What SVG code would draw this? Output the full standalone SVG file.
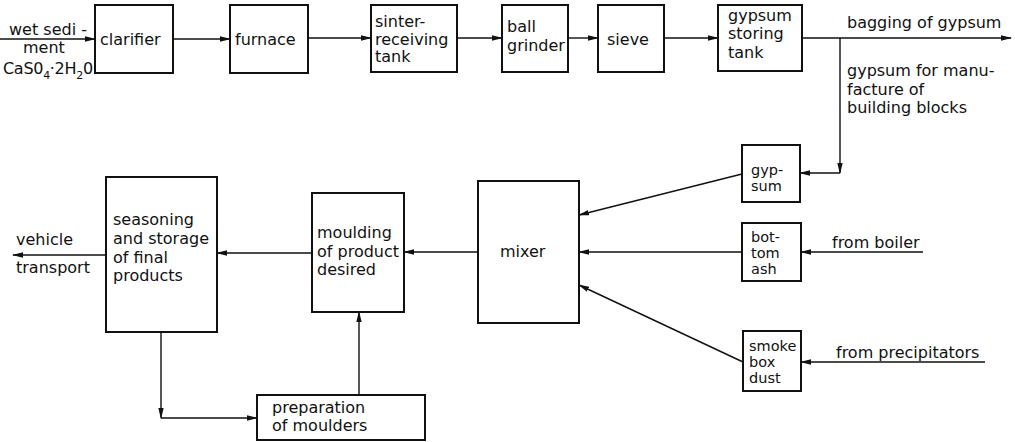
<svg xmlns="http://www.w3.org/2000/svg" width="1015" height="442" viewBox="0 0 1015 442">
<style>
.box{fill:#fff;stroke:#111;stroke-width:2}
.ln{fill:none;stroke:#111;stroke-width:1.4}
text{font-family:"DejaVu Sans",sans-serif;font-size:16px;fill:#111}
.sm{font-size:14.5px}
</style>
<defs>
<marker id="ar" markerWidth="11" markerHeight="7" refX="10" refY="3.5" orient="auto" markerUnits="userSpaceOnUse">
<path d="M0,0.8 L11,3.5 L0,6.2 Z" fill="#111"/>
</marker>
</defs>
<rect width="1015" height="442" fill="#fff"/>
<g id="connectors">
<line class="ln" x1="0" y1="39" x2="95" y2="39" marker-end="url(#ar)"/>
<line class="ln" x1="173" y1="39" x2="230" y2="39" marker-end="url(#ar)"/>
<line class="ln" x1="308" y1="38" x2="371" y2="38" marker-end="url(#ar)"/>
<line class="ln" x1="457" y1="38" x2="502" y2="38" marker-end="url(#ar)"/>
<line class="ln" x1="568" y1="38" x2="598" y2="38" marker-end="url(#ar)"/>
<line class="ln" x1="664" y1="38" x2="718" y2="38" marker-end="url(#ar)"/>
<line class="ln" x1="802" y1="38" x2="1011" y2="38" marker-end="url(#ar)"/>
<line class="ln" x1="840" y1="38" x2="840" y2="173" marker-end="url(#ar)"/>
<line class="ln" x1="840" y1="173" x2="800" y2="173" marker-end="url(#ar)"/>
<line class="ln" x1="742" y1="174" x2="579" y2="215" marker-end="url(#ar)"/>
<line class="ln" x1="742" y1="252" x2="579" y2="252" marker-end="url(#ar)"/>
<line class="ln" x1="743" y1="362" x2="579" y2="285" marker-end="url(#ar)"/>
<line class="ln" x1="923" y1="252" x2="801" y2="252" marker-end="url(#ar)"/>
<line class="ln" x1="985" y1="362" x2="801" y2="362" marker-end="url(#ar)"/>
<line class="ln" x1="478" y1="252" x2="404" y2="252" marker-end="url(#ar)"/>
<line class="ln" x1="312" y1="253" x2="217" y2="253" marker-end="url(#ar)"/>
<line class="ln" x1="106" y1="255" x2="13" y2="255" marker-end="url(#ar)"/>
<line class="ln" x1="161" y1="332" x2="161" y2="418" marker-end="url(#ar)"/>
<line class="ln" x1="161" y1="418" x2="257" y2="418" marker-end="url(#ar)"/>
<line class="ln" x1="359" y1="395" x2="359" y2="312" marker-end="url(#ar)"/>
</g>
<g id="clarifier"><rect class="box" x="95" y="5" width="78" height="68"/><text x="100" y="45">clarifier</text></g>
<g id="furnace"><rect class="box" x="230" y="5" width="78" height="68"/><text x="235" y="45">furnace</text></g>
<g id="sinter"><rect class="box" x="371" y="5" width="86" height="67"/><text x="375" y="27">sinter-</text><text x="375" y="45">receiving</text><text x="375" y="62">tank</text></g>
<g id="ballgrinder"><rect class="box" x="502" y="5" width="66" height="67"/><text x="507" y="32">ball</text><text x="507" y="51">grinder</text></g>
<g id="sieve"><rect class="box" x="598" y="5" width="66" height="67"/><text x="607" y="45">sieve</text></g>
<g id="gypsumtank"><rect class="box" x="718" y="5" width="84" height="66"/><text x="728" y="21">gypsum</text><text x="728" y="39">storing</text><text x="728" y="58">tank</text></g>
<g id="gypsum"><rect class="box" x="742" y="145" width="58" height="57"/><text class="sm" x="751" y="175">gyp-</text><text class="sm" x="751" y="191">sum</text></g>
<g id="bottomash"><rect class="box" x="742" y="223" width="59" height="58"/><text class="sm" x="751" y="242">bot-</text><text class="sm" x="751" y="258">tom</text><text class="sm" x="751" y="274">ash</text></g>
<g id="smokebox"><rect class="box" x="743" y="331" width="58" height="60"/><text class="sm" x="749" y="351">smoke</text><text class="sm" x="749" y="367">box</text><text class="sm" x="749" y="383">dust</text></g>
<g id="mixer"><rect class="box" x="478" y="181" width="101" height="142"/><text x="500" y="257">mixer</text></g>
<g id="moulding"><rect class="box" x="312" y="193" width="92" height="119"/><text x="317" y="238">moulding</text><text x="317" y="257">of product</text><text x="317" y="275">desired</text></g>
<g id="seasoning"><rect class="box" x="106" y="177" width="111" height="155"/><text x="113" y="225">seasoning</text><text x="113" y="244">and storage</text><text x="113" y="263">of final</text><text x="113" y="281">products</text></g>
<g id="preparation"><rect class="box" x="257" y="395" width="168" height="45"/><text x="272" y="413">preparation</text><text x="272" y="431">of moulders</text></g>
<g id="labels">
<text x="9" y="35">wet sedi -</text>
<text x="23" y="53">ment</text>
<text x="3" y="74" font-size="14.5" letter-spacing="-0.3">CaS0<tspan font-size="11" dy="5">4</tspan><tspan dy="-5">·2H</tspan><tspan font-size="11" dy="5">2</tspan><tspan dy="-5">0</tspan></text>
<text x="847" y="28">bagging of gypsum</text>
<text x="847" y="76">gypsum for manu-</text>
<text x="847" y="95">facture of</text>
<text x="847" y="113">building blocks</text>
<text x="832" y="248">from boiler</text>
<text x="836" y="358">from precipitators</text>
<text x="16" y="245">vehicle</text>
<text x="16" y="273">transport</text>
</g>
</svg>
